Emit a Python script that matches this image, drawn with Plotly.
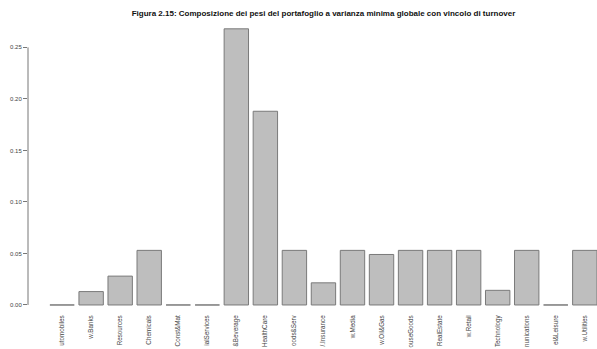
import plotly.graph_objects as go

# Sector labels (as printed under each bar) and portfolio weights
sectors = [
    "utomobiles", "w.Banks", "Resources", "Chemicals", "Const&Mat",
    "ialServices", "&Beverage", "HealthCare", "oods&Serv", "/.Insurance",
    "w.Media", "w.Oil&Gas", "ouseGoods", "RealEstate", "w.Retail",
    "Technology", "nunications", "el&Leisure", "w.Utilities",
]
weights = [
    0.0, 0.013, 0.028, 0.053, 0.0,
    0.0, 0.268, 0.188, 0.053, 0.0215,
    0.053, 0.049, 0.053, 0.053, 0.053,
    0.0142, 0.053, 0.0, 0.053,
]
y_ticks = [0.00, 0.05, 0.10, 0.15, 0.20, 0.25]

title = ("Figura 2.15: Composizione dei pesi del portafoglio a varianza "
         "minima globale con vincolo di turnover")

fig = go.Figure(
    go.Bar(
        x=list(range(len(sectors))),
        y=weights,
        marker=dict(color="#bebebe", line=dict(color="#7a7a7a", width=1)),
        width=0.84,
        hoverinfo="skip",
    )
)

fig.update_layout(
    width=597,
    height=349,
    margin=dict(l=28, r=0, t=18, b=33),
    paper_bgcolor="white",
    plot_bgcolor="white",
    showlegend=False,
    font=dict(family="Liberation Sans, Arial, sans-serif", color="#333"),
    title=dict(
        text="<b>" + title + "</b>",
        xref="container",
        x=323.5 / 597,
        xanchor="center",
        y=1 - 13 / 349,
        yanchor="middle",
        font=dict(size=8, color="#111"),
    ),
    xaxis=dict(
        range=[-1.174, 18.42],
        tickmode="array",
        tickvals=list(range(len(sectors))),
        ticktext=sectors,
        tickangle=-90,
        tickfont=dict(size=6.3, color="#444"),
        ticks="",
        ticklabelstandoff=-3,
        showline=False,
        showgrid=False,
        zeroline=False,
        automargin=False,
    ),
    yaxis=dict(
        range=[-0.0107, 0.2785],
        tickmode="array",
        tickvals=y_ticks,
        ticktext=[f"{v:.2f}" for v in y_ticks],
        tickfont=dict(size=6, color="#444"),
        ticks="outside",
        ticklen=4,
        tickcolor="#777",
        tickwidth=1,
        showline=False,
        showgrid=False,
        zeroline=False,
        automargin=False,
    ),
    shapes=[
        dict(
            type="line",
            xref="paper",
            yref="y",
            x0=0,
            x1=0,
            y0=y_ticks[0],
            y1=y_ticks[-1],
            line=dict(color="#777", width=1),
        )
    ],
)

fig.write_html("out.html")
